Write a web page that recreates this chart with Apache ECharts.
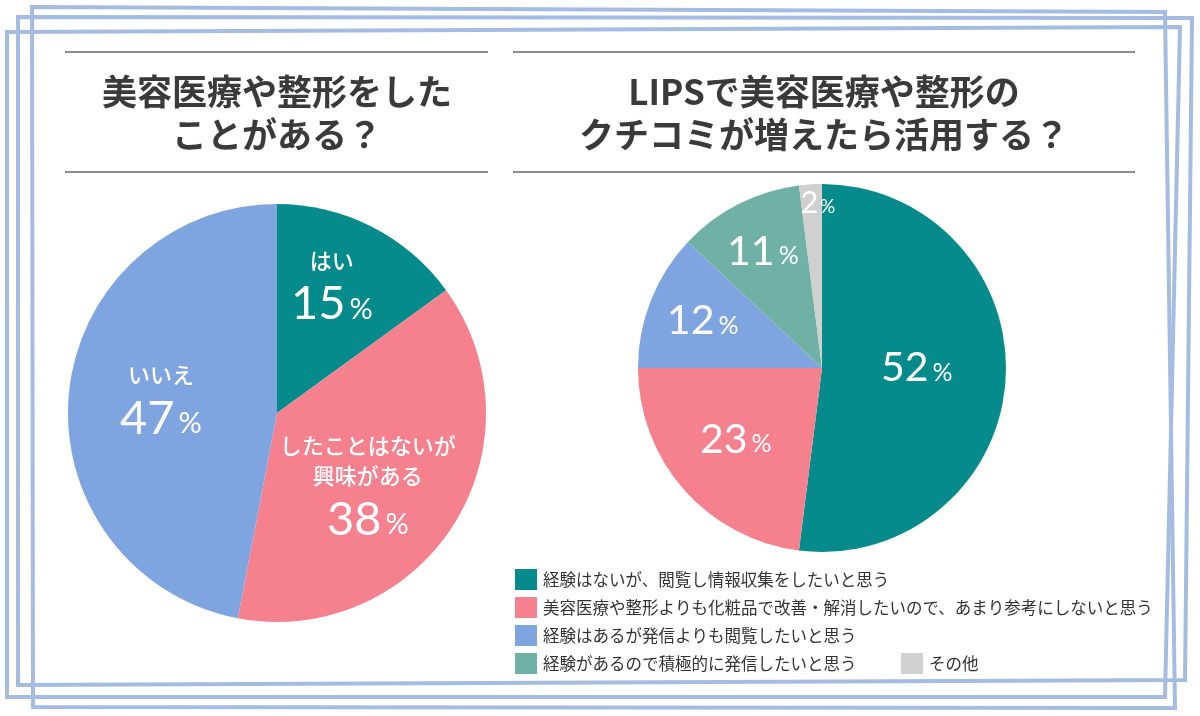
<!DOCTYPE html>
<html><head><meta charset="utf-8">
<script src="https://cdn.jsdelivr.net/npm/echarts@6/dist/echarts.min.js"></script>
<style>html,body{margin:0;padding:0;background:#fff}#c{width:1200px;height:716px}</style>
</head><body><div id="c"></div>
<script>
// ---- data ----
const leftTitle = '美容医療や整形をした\nことがある？';
const rightTitle = 'LIPSで美容医療や整形の\nクチコミが増えたら活用する？';
const leftCategories = ['はい', 'したことはないが\n興味がある', 'いいえ'];
const leftValues = [15, 38, 47];
const rightCategories = [
  '経験はないが、閲覧し情報収集をしたいと思う',
  '美容医療や整形よりも化粧品で改善・解消したいので、あまり参考にしないと思う',
  '経験はあるが発信よりも閲覧したいと思う',
  '経験があるので積極的に発信したいと思う',
  'その他'
];
const rightValues = [52, 23, 12, 11, 2];

// ---- styles ----
const C_TEAL = '#058b8b', C_PINK = '#f6818e', C_BLUE = '#7fa5e0', C_LTEAL = '#6fb1a5', C_GRAY = '#d0d0d0';
const leftColors = [C_TEAL, C_PINK, C_BLUE];
const rightColors = [C_TEAL, C_PINK, C_BLUE, C_LTEAL, C_GRAY];
const leftLabelShift = [[6, -28], [0, 19], [-9, 1]];
const rightLabelShift = [[0, -6], [-15, 9], [-31, -12], [-16, -32], [2, -70]];
const JP = '"Noto Sans CJK JP", sans-serif';
const NUM = 'Lato, "Noto Sans", sans-serif';

const chart = echarts.init(document.getElementById('c'), null, {renderer: 'canvas'});

const frameStyle = {fill: 'none', stroke: '#a5bce2', lineWidth: 4, lineJoin: 'miter'};
const graphics = [
  {type: 'polygon', z: 0, shape: {points: [[32, 7], [1165, 12], [1175, 708], [33, 707]]}, style: frameStyle},
  {type: 'polygon', z: 0, shape: {points: [[18, 17], [1192, 18], [1185, 680], [18, 685]]}, style: frameStyle},
  {type: 'polygon', z: 0, shape: {points: [[7, 32], [1180, 27], [1165, 697], [7, 697]]}, style: frameStyle},
  {type: 'line', shape: {x1: 65, y1: 52, x2: 488, y2: 52}, style: {stroke: '#8c8c8c', lineWidth: 2}},
  {type: 'line', shape: {x1: 65, y1: 172, x2: 488, y2: 172}, style: {stroke: '#8c8c8c', lineWidth: 2}},
  {type: 'line', shape: {x1: 513, y1: 52, x2: 1135, y2: 52}, style: {stroke: '#8c8c8c', lineWidth: 2}},
  {type: 'line', shape: {x1: 513, y1: 172, x2: 1135, y2: 172}, style: {stroke: '#8c8c8c', lineWidth: 2}},
  {type: 'text', x: 277, y: 70, style: {text: leftTitle, align: 'center', verticalAlign: 'top', textAlign: 'center', textVerticalAlign: 'top',
    fontSize: 35, fontWeight: 'bold', fontFamily: JP, lineHeight: 43, fill: '#3a3a3a'}},
  {type: 'text', x: 824, y: 70, style: {text: rightTitle, align: 'center', verticalAlign: 'top', textAlign: 'center', textVerticalAlign: 'top',
    fontSize: 35, fontWeight: 'bold', fontFamily: JP, lineHeight: 43, fill: '#3a3a3a'}}
];

const option = {
  animation: false,
  graphic: graphics,
  legend: [
    {
      orient: 'vertical', left: 515, top: 569, padding: 0, itemWidth: 22, itemHeight: 21, itemGap: 7,
      icon: 'rect', selectedMode: false,
      data: rightCategories.slice(0, 4),
      textStyle: {fontFamily: JP, fontSize: 16.5, color: '#333', padding: [0, 0, 0, 1]}
    },
    {
      orient: 'horizontal', left: 901, top: 653, padding: 0, itemWidth: 22, itemHeight: 21,
      icon: 'rect', selectedMode: false,
      data: [rightCategories[4]],
      textStyle: {fontFamily: JP, fontSize: 16.5, color: '#333', padding: [0, 0, 0, 1]}
    }
  ],
  series: [
    {
      type: 'pie', center: [277, 413], radius: 209, startAngle: 90, clockwise: true,
      silent: true, emphasis: {disabled: true},
      data: leftCategories.map((n, i) => ({name: n, value: leftValues[i], itemStyle: {color: leftColors[i]}})),
      label: {
        show: true, position: 'inside', color: '#fff',
        formatter: p => '{t|' + p.name.split('\n').join('}\n{t|') + '}\n{n|' + p.value + '}{p|%}',
        rich: {
          t: {fontFamily: JP, fontSize: 22, fontWeight: 500, lineHeight: 30, color: '#fff'},
          n: {fontFamily: NUM, fontSize: 47, lineHeight: 58, color: '#fff'},
          p: {fontFamily: NUM, fontSize: 29, lineHeight: 58, color: '#fff', padding: [10, 0, 0, 4]}
        }
      },
      labelLine: {show: false},
      labelLayout: p => ({dx: leftLabelShift[p.dataIndex][0], dy: leftLabelShift[p.dataIndex][1]})
    },
    {
      type: 'pie', center: [822, 368], radius: 184, startAngle: 90, clockwise: true,
      silent: true, emphasis: {disabled: true},
      data: rightCategories.map((n, i) => ({name: n, value: rightValues[i], itemStyle: {color: rightColors[i]}})),
      label: {
        show: true, position: 'inside', color: '#fff',
        formatter: p => p.value < 5 ? '{sn|' + p.value + '}{sp|%}' : '{n|' + p.value + '}{p|%}',
        rich: {
          n: {fontFamily: NUM, fontSize: 41, lineHeight: 48, color: '#fff'},
          p: {fontFamily: NUM, fontSize: 25, lineHeight: 48, color: '#fff', padding: [9, 0, 0, 4]},
          sn: {fontFamily: NUM, fontSize: 30, lineHeight: 36, color: '#fff'},
          sp: {fontFamily: NUM, fontSize: 19, lineHeight: 36, color: '#fff', padding: [7, 0, 0, 2]}
        }
      },
      labelLine: {show: false},
      labelLayout: p => ({dx: rightLabelShift[p.dataIndex][0], dy: rightLabelShift[p.dataIndex][1]})
    }
  ]
};
chart.setOption(option);
</script></body></html>
